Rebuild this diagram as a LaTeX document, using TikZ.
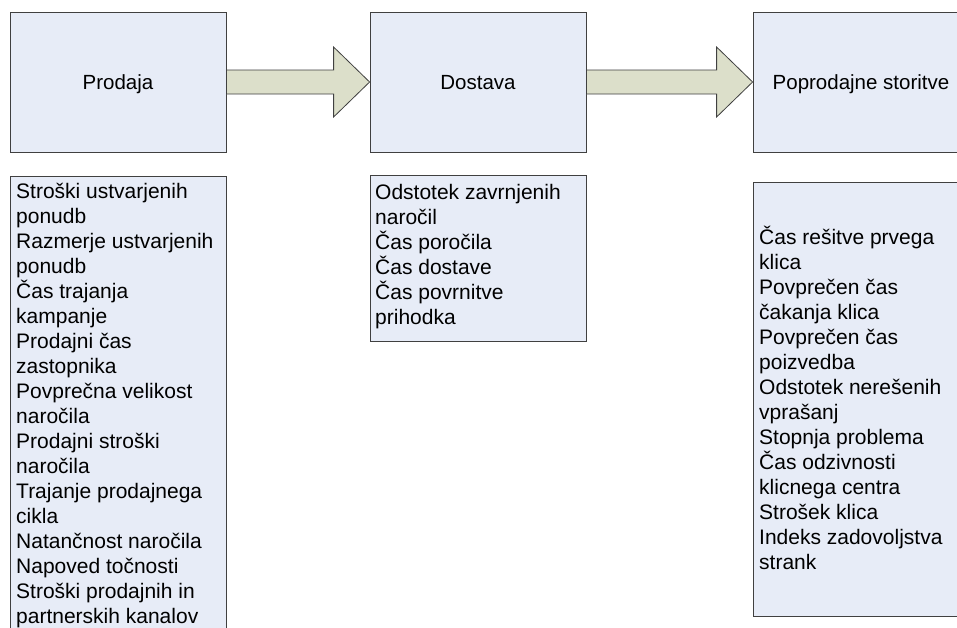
\documentclass[tikz,border=0pt]{standalone}
\usepackage{fontspec}
\setmainfont{Liberation Sans}
\usetikzlibrary{calc}
\definecolor{boxfill}{HTML}{E7ECF7}
\definecolor{arrowfill}{HTML}{DCDFCA}
\definecolor{edgecol}{HTML}{404040}
\begin{document}
\begin{tikzpicture}[x=1pt,y=-1pt,
  stagebox/.style={draw=edgecol, line width=0.8pt, fill=boxfill, minimum width=216pt, minimum height=140pt, inner sep=0pt, text height=16pt, text depth=2pt, font=\fontsize{20.5}{24}\selectfont},
  listbox/.style={draw=edgecol, line width=0.8pt, fill=boxfill, minimum width=216pt, inner sep=0pt},
  listtext/.style={anchor=north west, inner sep=0pt, align=left, font=\fontsize{21}{25}\selectfont},
  blockarrow/.style={draw=edgecol, line width=0.8pt, fill=arrowfill, line join=miter}]
\useasboundingbox (0,0) rectangle (957,627);
\clip (0,0) rectangle (957,627);
\fill[white] (0,0) rectangle (957,627);
% stage boxes
\node[stagebox] (prodaja) at (118,82) {Prodaja};
\node[stagebox] (dostava) at (478,82) {Dostava};
\node[stagebox] (poprodajne) at (861,82) {Poprodajne storitve};
% list boxes
\node[listbox, minimum height=474pt] (prodajaList) at (118,413) {};
\node[listbox, minimum height=166pt] (dostavaList) at (478,258) {};
\node[listbox, minimum height=434pt] (poprodajneList) at (861,399) {};
% list texts
\node[listtext] (prodajaText) at (16,178) {\rule{0pt}{20pt}Stroški ustvarjenih\\ponudb\\Razmerje ustvarjenih\\ponudb\\Čas trajanja\\kampanje\\Prodajni čas\\zastopnika\\Povprečna velikost\\naročila\\Prodajni stroški\\naročila\\Trajanje prodajnega\\cikla\\Natančnost naročila\\Napoved točnosti\\Stroški prodajnih in\\partnerskih kanalov};
\node[listtext] (dostavaText) at (375,179) {\rule{0pt}{20pt}Odstotek zavrnjenih\\naročil\\Čas poročila\\Čas dostave\\Čas povrnitve\\prihodka};
\node[listtext] (poprodajneText) at (759,224) {\rule{0pt}{20pt}Čas rešitve prvega\\klica\\Povprečen čas\\čakanja klica\\Povprečen čas\\poizvedba\\Odstotek nerešenih\\vprašanj\\Stopnja problema\\Čas odzivnosti\\klicnega centra\\Strošek klica\\Indeks zadovoljstva\\strank};
% block arrows
\draw[blockarrow] let \p1=(prodaja.east), \p2=(dostava.west) in
  ({\x1},{\y1+12pt}) -- ({\x2-36pt},{\y1+12pt}) -- ({\x2-36pt},{\y1+35pt}) -- ({\x2},{\y1}) -- ({\x2-36pt},{\y1-35pt}) -- ({\x2-36pt},{\y1-12pt}) -- ({\x1},{\y1-12pt}) -- cycle;
\draw[blockarrow] let \p1=(dostava.east), \p2=(poprodajne.west) in
  ({\x1},{\y1+12pt}) -- ({\x2-36pt},{\y1+12pt}) -- ({\x2-36pt},{\y1+35pt}) -- ({\x2},{\y1}) -- ({\x2-36pt},{\y1-35pt}) -- ({\x2-36pt},{\y1-12pt}) -- ({\x1},{\y1-12pt}) -- cycle;
\end{tikzpicture}
\end{document}
